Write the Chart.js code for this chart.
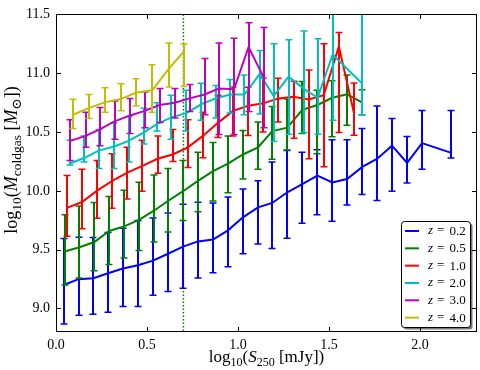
<!DOCTYPE html>
<html><head><meta charset="utf-8">
<script src="https://cdn.jsdelivr.net/npm/chart.js@4"></script>
<style>html,body{margin:0;padding:0;background:#fff}</style>
</head><body>
<canvas id="c" width="480" height="370"></canvas>
<script>
// ---- axis ticks ----
const xTicks = [0.0, 0.5, 1.0, 1.5, 2.0];
const yTicks = [9.0, 9.5, 10.0, 10.5, 11.0, 11.5];
const xRange = [0, 2.313];
const yRange = [8.8, 11.5];
const cutX = 0.7;
const seriesLabels = ['0.2', '0.5', '1.0', '2.0', '3.0', '4.0'];

// ---- z = 0.2 ----
const x_z02 = [0.042,0.124,0.205,0.286,0.368,0.450,0.533,0.615,0.698,0.780,0.863,0.945,1.027,1.110,1.188,1.271,1.353,1.436,1.518,1.599,1.683,1.765,1.846,1.929,2.011,2.172];
const y_z02 = [9.200,9.249,9.257,9.299,9.340,9.368,9.407,9.465,9.526,9.570,9.586,9.664,9.775,9.860,9.897,9.988,10.057,10.130,10.071,10.101,10.204,10.273,10.384,10.238,10.406,10.323];
const lo_z02 = [8.867,8.942,8.950,8.967,9.017,9.017,9.113,9.144,9.171,9.260,9.304,9.354,9.465,9.548,9.509,9.598,9.725,9.797,9.742,9.880,9.968,9.918,9.997,10.066,10.184,10.279];
const hi_z02 = [9.595,9.606,9.603,9.645,9.683,9.748,9.769,9.811,9.885,9.902,9.897,9.947,10.016,10.085,10.245,10.342,10.329,10.350,10.434,10.434,10.531,10.722,10.614,10.462,10.683,10.683];

// ---- z = 0.5 ----
const x_z05 = [0.047,0.129,0.211,0.292,0.374,0.456,0.538,0.615,0.698,0.780,0.863,0.945,1.027,1.110,1.188,1.271,1.353,1.436,1.518,1.599,1.683];
const y_z05 = [9.484,9.520,9.565,9.659,9.698,9.753,9.831,9.914,9.997,10.085,10.168,10.232,10.309,10.370,10.508,10.537,10.689,10.730,10.791,10.821,10.749];
const lo_z05 = [9.200,9.260,9.320,9.374,9.429,9.492,9.565,9.650,9.748,9.822,9.914,9.983,10.101,10.184,10.268,10.348,10.487,10.315,10.459,10.558,10.647];
const hi_z05 = [9.797,9.872,9.900,9.952,10.005,10.074,10.134,10.190,10.259,10.329,10.412,10.467,10.514,10.586,10.716,10.780,10.929,10.855,10.935,10.985,10.860];

// ---- z = 1.0 ----
const x_z10 = [0.060,0.143,0.226,0.309,0.392,0.475,0.558,0.641,0.724,0.807,0.890,0.973,1.056,1.139,1.222,1.305,1.388,1.471,1.554,1.637];
const y_z10 = [9.855,9.905,10.002,10.085,10.155,10.213,10.273,10.309,10.370,10.467,10.578,10.680,10.724,10.744,10.786,10.799,10.777,10.813,11.228,10.661];
const lo_z10 = [9.615,9.678,9.767,9.852,9.930,9.997,10.149,10.250,10.198,10.282,10.453,10.467,10.470,10.500,10.586,10.448,10.273,10.204,10.495,10.473];
const hi_z10 = [10.130,10.184,10.259,10.315,10.370,10.431,10.467,10.522,10.605,10.669,10.813,10.882,10.880,10.960,10.957,10.932,11.027,11.251,11.347,10.916];

// ---- z = 2.0 ----
const x_z20 = [0.075,0.155,0.234,0.316,0.399,0.481,0.557,0.634,0.716,0.798,0.877,0.958,1.035,1.119,1.196,1.278,1.360,1.437,1.520,1.683];
const y_z20 = [10.232,10.279,10.342,10.375,10.425,10.495,10.570,10.625,10.661,10.736,10.786,10.819,10.819,10.993,10.807,10.971,10.869,10.791,11.159,10.911];
const lo_z20 = [10.220,10.246,10.190,10.190,10.246,10.398,10.508,10.439,10.508,10.600,10.620,10.661,10.647,10.653,10.420,10.481,10.495,10.481,10.600,10.647];
const hi_z20 = [10.431,10.467,10.522,10.578,10.633,10.703,10.749,10.813,10.855,10.914,10.896,10.946,10.985,11.193,11.251,11.284,11.359,11.292,11.600,11.600];

// ---- z = 3.0 ----
const x_z30 = [0.079,0.163,0.240,0.322,0.404,0.487,0.569,0.652,0.734,0.816,0.896,0.978,1.058,1.141];
const y_z30 = [10.425,10.467,10.522,10.591,10.639,10.680,10.730,10.749,10.786,10.819,10.869,10.863,11.223,10.965];
const lo_z30 = [10.259,10.370,10.383,10.439,10.487,10.537,10.580,10.620,10.674,10.647,10.480,10.480,10.674,10.537];
const hi_z30 = [10.605,10.669,10.708,10.763,10.786,10.841,10.870,10.870,10.904,11.126,11.256,11.297,11.430,11.389];

// ---- z = 4.0 ----
const x_z40 = [0.093,0.179,0.267,0.355,0.441,0.529,0.621,0.701];
const y_z40 = [10.647,10.703,10.752,10.780,10.836,10.855,11.040,11.181];
const lo_z40 = [10.531,10.614,10.669,10.680,10.722,10.669,10.882,10.888];
const hi_z40 = [10.778,10.819,10.877,10.910,10.952,11.071,11.256,11.248];

const palette = ['#0000ff', '#008000', '#ff0000', '#00bfbf', '#bf00bf', '#bfbf00'];
const seriesX = [x_z02, x_z05, x_z10, x_z20, x_z30, x_z40];
const seriesY = [y_z02, y_z05, y_z10, y_z20, y_z30, y_z40];
const seriesLo = [lo_z02, lo_z05, lo_z10, lo_z20, lo_z30, lo_z40];
const seriesHi = [hi_z02, hi_z05, hi_z10, hi_z20, hi_z30, hi_z40];

const SERIF = '"Liberation Serif", "DejaVu Serif", serif';

const datasets = seriesLabels.map((lab, i) => ({
  label: lab,
  data: seriesX[i].map((xv, j) => ({x: xv, y: seriesY[i][j]})),
  errLo: seriesLo[i],
  errHi: seriesHi[i],
  borderColor: palette[i],
  backgroundColor: palette[i],
  borderWidth: 2,
  pointRadius: 0,
  pointHoverRadius: 0,
  tension: 0,
  fill: false,
  order: seriesLabels.length - i
}));

function clipArea(chart) {
  const a = chart.chartArea, c = chart.ctx;
  c.beginPath(); c.rect(a.left, a.top, a.right - a.left, a.bottom - a.top); c.clip();
}

const errorBars = {
  id: 'errorBars',
  beforeDatasetDraw(chart, args) {
    const ds = chart.data.datasets[args.index];
    const xs = chart.scales.x, ys = chart.scales.y, c = chart.ctx;
    c.save(); clipArea(chart);
    c.strokeStyle = ds.borderColor;
    ds.data.forEach((p, j) => {
      const lo = ds.errLo[j], hi = ds.errHi[j];
      if (lo == null || hi == null) return;
      const px = Math.round(xs.getPixelForValue(p.x));
      const pl = ys.getPixelForValue(lo), ph = ys.getPixelForValue(hi);
      c.lineWidth = 2;
      c.beginPath(); c.moveTo(px, pl); c.lineTo(px, ph); c.stroke();
      c.lineWidth = 1.5;
      c.beginPath();
      c.moveTo(px - 3.5, pl); c.lineTo(px + 3.5, pl);
      c.moveTo(px - 3.5, ph); c.lineTo(px + 3.5, ph);
      c.stroke();
    });
    c.restore();
  }
};

const cutLine = {
  id: 'cutLine',
  beforeDatasetsDraw(chart) {
    const c = chart.ctx, a = chart.chartArea;
    const px = chart.scales.x.getPixelForValue(cutX);
    c.save();
    c.strokeStyle = '#008000'; c.lineWidth = 1.5; c.setLineDash([1.5, 2]);
    c.beginPath(); c.moveTo(px, a.top); c.lineTo(px, a.bottom); c.stroke();
    c.restore();
  }
};

function drawPieces(c, pieces, x, y) {
  let w = 0;
  pieces.forEach(p => { c.font = p[1]; w += c.measureText(p[0]).width; });
  let cx = x - w / 2;
  pieces.forEach(p => { c.font = p[1]; c.fillText(p[0], cx, y + (p[2] || 0)); cx += c.measureText(p[0]).width; });
}

const frameAndTitles = {
  id: 'frameAndTitles',
  afterDraw(chart) {
    const c = chart.ctx, a = chart.chartArea;
    const xs = chart.scales.x, ys = chart.scales.y;
    c.save();
    c.strokeStyle = '#000'; c.lineWidth = 1;
    const L = Math.round(a.left) + 0.5, R = Math.round(a.right) - 0.5, T = Math.round(a.top) + 0.5, B = Math.round(a.bottom) - 0.5;
    c.strokeRect(L, T, R - L, B - T);
    const tl = 4.5;
    c.beginPath();
    xTicks.forEach(v => {
      const px = Math.round(xs.getPixelForValue(v)) + 0.5;
      c.moveTo(px, B); c.lineTo(px, B - tl);
      c.moveTo(px, T); c.lineTo(px, T + tl);
    });
    yTicks.forEach(v => {
      const py = Math.round(ys.getPixelForValue(v)) + 0.5;
      c.moveTo(L, py); c.lineTo(L + tl, py);
      c.moveTo(R, py); c.lineTo(R - tl, py);
    });
    c.stroke();

    // axis titles
    c.fillStyle = '#000'; c.textBaseline = 'alphabetic'; c.textAlign = 'left';
    const big = '17px ' + SERIF, sub = '12px ' + SERIF, bigI = 'italic 17px ' + SERIF;
    drawPieces(c, [['log', big], ['10', sub, 4], ['(', big], ['S', bigI], ['250', sub, 4], [' [mJy])', big]], (a.left + a.right) / 2, 362);
    const ybig = '18px ' + SERIF, ysub = '13.5px ' + SERIF, ybigI = 'italic 18px ' + SERIF;
    c.translate(16.5, 160);
    c.rotate(-Math.PI / 2);
    drawPieces(c, [['log', ybig], ['10', ysub, 4.5], ['(', ybig], ['M', ybigI], ['coldgas', ysub, 4.5], [' [', ybig], ['M', ybigI], ['\u2299', ysub, 4.5], ['])', ybig]], 0, 0);
    c.restore();

    // legend
    c.save();
    const bw = 69, bh = 106;
    const bx = a.right - 7 - bw, by = a.bottom - 5 - bh;
    const rr = (x, y, w, h, r) => { c.beginPath(); c.roundRect(x, y, w, h, r); };
    c.fillStyle = 'rgba(0,0,0,0.55)';
    rr(bx + 2.5, by + 2.5, bw, bh, 3); c.fill();
    c.fillStyle = '#fff'; c.strokeStyle = '#000'; c.lineWidth = 1;
    rr(bx + 0.5, by + 0.5, bw, bh, 3); c.fill(); c.stroke();
    const step = 17.33;
    chart.data.datasets.forEach((ds, i) => {
      const cy = by + 10 + i * step;
      c.strokeStyle = ds.borderColor; c.lineWidth = 2;
      c.beginPath(); c.moveTo(bx + 4, cy); c.lineTo(bx + 18, cy); c.stroke();
      c.fillStyle = '#000'; c.textBaseline = 'middle'; c.textAlign = 'left';
      c.font = 'italic 13px ' + SERIF; c.fillText('z', bx + 27, cy);
      c.font = '13px ' + SERIF; c.fillText('=', bx + 36, cy);
      c.fillText(ds.label, bx + 48.5, cy + 0.5);
    });
    c.restore();
  }
};

const tickFont = {family: SERIF, size: 14};
new Chart(document.getElementById('c'), {
  type: 'line',
  data: {datasets},
  options: {
    responsive: false, animation: false, devicePixelRatio: 1,
    layout: {padding: {left: 0, right: 3, top: 7, bottom: 0}},
    plugins: {legend: {display: false}, tooltip: {enabled: false}},
    scales: {
      x: {
        type: 'linear', min: xRange[0], max: xRange[1],
        afterFit(s) { s.height = 38; },
        afterBuildTicks(s) { s.ticks = xTicks.map(v => ({value: v})); },
        grid: {display: false, drawTicks: false}, border: {display: false},
        ticks: {padding: 5, color: '#000', font: tickFont, maxRotation: 0, autoSkip: false, callback: v => v.toFixed(1)}
      },
      y: {
        type: 'linear', min: yRange[0], max: yRange[1],
        afterFit(s) { s.width = 56; },
        afterBuildTicks(s) { s.ticks = yTicks.map(v => ({value: v})); },
        grid: {display: false, drawTicks: false}, border: {display: false},
        ticks: {padding: 6, color: '#000', font: tickFont, autoSkip: false, callback: v => v.toFixed(1)}
      }
    }
  },
  plugins: [cutLine, errorBars, frameAndTitles]
});
</script>
</body></html>
